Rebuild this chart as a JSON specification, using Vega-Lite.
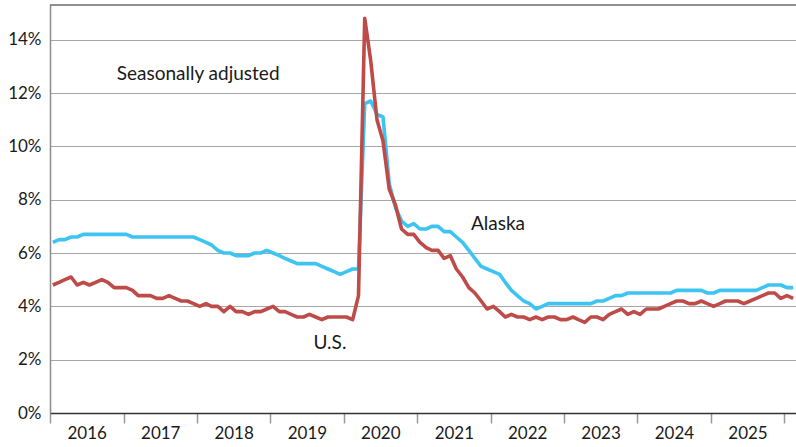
{
  "$schema": "https://vega.github.io/schema/vega-lite/v6.json",
  "width": 746,
  "height": 408,
  "autosize": {"type": "none"},
  "padding": {"left": 50, "top": 5, "right": 0, "bottom": 34},
  "background": "white",
  "config": {
    "view": {"stroke": null},
    "font": "Lato",
    "axis": {"labelFont": "Lato", "labelColor": "#1a1a1a", "labelFontSize": 17}
  },
  "datasets": {
    "series": [
      {"d":"2016-01-15","us":4.8,"ak":6.4},{"d":"2016-02-15","us":4.9,"ak":6.5},{"d":"2016-03-15","us":5.0,"ak":6.5},{"d":"2016-04-15","us":5.1,"ak":6.6},{"d":"2016-05-15","us":4.8,"ak":6.6},{"d":"2016-06-15","us":4.9,"ak":6.7},{"d":"2016-07-15","us":4.8,"ak":6.7},{"d":"2016-08-15","us":4.9,"ak":6.7},{"d":"2016-09-15","us":5.0,"ak":6.7},{"d":"2016-10-15","us":4.9,"ak":6.7},{"d":"2016-11-15","us":4.7,"ak":6.7},{"d":"2016-12-15","us":4.7,"ak":6.7},
      {"d":"2017-01-15","us":4.7,"ak":6.7},{"d":"2017-02-15","us":4.6,"ak":6.6},{"d":"2017-03-15","us":4.4,"ak":6.6},{"d":"2017-04-15","us":4.4,"ak":6.6},{"d":"2017-05-15","us":4.4,"ak":6.6},{"d":"2017-06-15","us":4.3,"ak":6.6},{"d":"2017-07-15","us":4.3,"ak":6.6},{"d":"2017-08-15","us":4.4,"ak":6.6},{"d":"2017-09-15","us":4.3,"ak":6.6},{"d":"2017-10-15","us":4.2,"ak":6.6},{"d":"2017-11-15","us":4.2,"ak":6.6},{"d":"2017-12-15","us":4.1,"ak":6.6},
      {"d":"2018-01-15","us":4.0,"ak":6.5},{"d":"2018-02-15","us":4.1,"ak":6.4},{"d":"2018-03-15","us":4.0,"ak":6.3},{"d":"2018-04-15","us":4.0,"ak":6.1},{"d":"2018-05-15","us":3.8,"ak":6.0},{"d":"2018-06-15","us":4.0,"ak":6.0},{"d":"2018-07-15","us":3.8,"ak":5.9},{"d":"2018-08-15","us":3.8,"ak":5.9},{"d":"2018-09-15","us":3.7,"ak":5.9},{"d":"2018-10-15","us":3.8,"ak":6.0},{"d":"2018-11-15","us":3.8,"ak":6.0},{"d":"2018-12-15","us":3.9,"ak":6.1},
      {"d":"2019-01-15","us":4.0,"ak":6.0},{"d":"2019-02-15","us":3.8,"ak":5.9},{"d":"2019-03-15","us":3.8,"ak":5.8},{"d":"2019-04-15","us":3.7,"ak":5.7},{"d":"2019-05-15","us":3.6,"ak":5.6},{"d":"2019-06-15","us":3.6,"ak":5.6},{"d":"2019-07-15","us":3.7,"ak":5.6},{"d":"2019-08-15","us":3.6,"ak":5.6},{"d":"2019-09-15","us":3.5,"ak":5.5},{"d":"2019-10-15","us":3.6,"ak":5.4},{"d":"2019-11-15","us":3.6,"ak":5.3},{"d":"2019-12-15","us":3.6,"ak":5.2},
      {"d":"2020-01-15","us":3.6,"ak":5.3},{"d":"2020-02-15","us":3.5,"ak":5.4},{"d":"2020-03-15","us":4.4,"ak":5.4},{"d":"2020-04-15","us":14.8,"ak":11.6},{"d":"2020-05-15","us":13.2,"ak":11.7},{"d":"2020-06-15","us":11.0,"ak":11.2},{"d":"2020-07-15","us":10.2,"ak":11.1},{"d":"2020-08-15","us":8.4,"ak":8.6},{"d":"2020-09-15","us":7.8,"ak":7.7},{"d":"2020-10-15","us":6.9,"ak":7.2},{"d":"2020-11-15","us":6.7,"ak":7.0},{"d":"2020-12-15","us":6.7,"ak":7.1},
      {"d":"2021-01-15","us":6.4,"ak":6.9},{"d":"2021-02-15","us":6.2,"ak":6.9},{"d":"2021-03-15","us":6.1,"ak":7.0},{"d":"2021-04-15","us":6.1,"ak":7.0},{"d":"2021-05-15","us":5.8,"ak":6.8},{"d":"2021-06-15","us":5.9,"ak":6.8},{"d":"2021-07-15","us":5.4,"ak":6.6},{"d":"2021-08-15","us":5.1,"ak":6.4},{"d":"2021-09-15","us":4.7,"ak":6.1},{"d":"2021-10-15","us":4.5,"ak":5.8},{"d":"2021-11-15","us":4.2,"ak":5.5},{"d":"2021-12-15","us":3.9,"ak":5.4},
      {"d":"2022-01-15","us":4.0,"ak":5.3},{"d":"2022-02-15","us":3.8,"ak":5.2},{"d":"2022-03-15","us":3.6,"ak":4.9},{"d":"2022-04-15","us":3.7,"ak":4.6},{"d":"2022-05-15","us":3.6,"ak":4.4},{"d":"2022-06-15","us":3.6,"ak":4.2},{"d":"2022-07-15","us":3.5,"ak":4.1},{"d":"2022-08-15","us":3.6,"ak":3.9},{"d":"2022-09-15","us":3.5,"ak":4.0},{"d":"2022-10-15","us":3.6,"ak":4.1},{"d":"2022-11-15","us":3.6,"ak":4.1},{"d":"2022-12-15","us":3.5,"ak":4.1},
      {"d":"2023-01-15","us":3.5,"ak":4.1},{"d":"2023-02-15","us":3.6,"ak":4.1},{"d":"2023-03-15","us":3.5,"ak":4.1},{"d":"2023-04-15","us":3.4,"ak":4.1},{"d":"2023-05-15","us":3.6,"ak":4.1},{"d":"2023-06-15","us":3.6,"ak":4.2},{"d":"2023-07-15","us":3.5,"ak":4.2},{"d":"2023-08-15","us":3.7,"ak":4.3},{"d":"2023-09-15","us":3.8,"ak":4.4},{"d":"2023-10-15","us":3.9,"ak":4.4},{"d":"2023-11-15","us":3.7,"ak":4.5},{"d":"2023-12-15","us":3.8,"ak":4.5},
      {"d":"2024-01-15","us":3.7,"ak":4.5},{"d":"2024-02-15","us":3.9,"ak":4.5},{"d":"2024-03-15","us":3.9,"ak":4.5},{"d":"2024-04-15","us":3.9,"ak":4.5},{"d":"2024-05-15","us":4.0,"ak":4.5},{"d":"2024-06-15","us":4.1,"ak":4.5},{"d":"2024-07-15","us":4.2,"ak":4.6},{"d":"2024-08-15","us":4.2,"ak":4.6},{"d":"2024-09-15","us":4.1,"ak":4.6},{"d":"2024-10-15","us":4.1,"ak":4.6},{"d":"2024-11-15","us":4.2,"ak":4.6},{"d":"2024-12-15","us":4.1,"ak":4.5},
      {"d":"2025-01-15","us":4.0,"ak":4.5},{"d":"2025-02-15","us":4.1,"ak":4.6},{"d":"2025-03-15","us":4.2,"ak":4.6},{"d":"2025-04-15","us":4.2,"ak":4.6},{"d":"2025-05-15","us":4.2,"ak":4.6},{"d":"2025-06-15","us":4.1,"ak":4.6},{"d":"2025-07-15","us":4.2,"ak":4.6},{"d":"2025-08-15","us":4.3,"ak":4.6},{"d":"2025-09-15","us":4.4,"ak":4.7},{"d":"2025-10-15","us":4.5,"ak":4.8},{"d":"2025-11-15","us":4.5,"ak":4.8},{"d":"2025-12-15","us":4.3,"ak":4.8},
      {"d":"2026-01-15","us":4.4,"ak":4.7},{"d":"2026-02-15","us":4.3,"ak":4.7}
    ],
    "labels": [
      {"d":"2018-01-07","v":12.5,"t":"Seasonally adjusted"},
      {"d":"2022-02-07","v":6.87,"t":"Alaska"},
      {"d":"2019-10-25","v":2.4,"t":"U.S."}
    ],
    "frame": [{"v":15.3}]
  },
  "layer": [
    {
      "data": {"name": "series"},
      "transform": [{"fold": ["ak", "us"], "as": ["area", "rate"]}],
      "mark": {"type": "line", "strokeWidth": 3.6, "strokeJoin": "round", "clip": true},
      "encoding": {
        "x": {
          "field": "d", "type": "temporal",
          "scale": {"domain": ["2016-01-01", "2026-03-01"]},
          "axis": {
            "title": null, "tickCount": {"interval": "year", "step": 1},
            "labelExpr": "year(datum.value) < 2026 ? timeFormat(datum.value, '%Y') : ''",
            "grid": false, "domainColor": "#333333", "domainWidth": 1.5,
            "tickColor": "#999999", "tickSize": 10, "tickWidth": 1.5,
            "labelOffset": 36.7, "labelAlign": "center", "labelBound": false, "labelFlush": false,
            "labelOverlap": false, "labelPadding": 2, "labelFontSize": 17
          }
        },
        "y": {
          "field": "rate", "type": "quantitative",
          "scale": {"domain": [0, 15.3], "nice": false},
          "axis": {
            "title": null, "values": [0, 2, 4, 6, 8, 10, 12, 14],
            "labelExpr": "datum.value + '%'",
            "grid": true, "gridColor": "#a6a6a6", "gridWidth": 1,
            "ticks": false, "domainColor": "#8c8c8c", "domainWidth": 1.5,
            "labelPadding": 9, "labelFontSize": 17
          }
        },
        "color": {
          "field": "area", "type": "nominal",
          "scale": {"domain": ["ak", "us"], "range": ["#3ec4f0", "#be4b48"]},
          "legend": null
        }
      }
    },
    {
      "data": {"name": "frame"},
      "mark": {"type": "rule", "color": "#222222", "strokeWidth": 1},
      "encoding": {"y": {"field": "v", "type": "quantitative"}}
    },
    {
      "data": {"name": "labels"},
      "mark": {"type": "text", "font": "Lato", "fontSize": 19, "align": "center", "baseline": "alphabetic", "color": "#1a1a1a"},
      "encoding": {
        "x": {"field": "d", "type": "temporal"},
        "y": {"field": "v", "type": "quantitative"},
        "text": {"field": "t"}
      }
    }
  ]
}
